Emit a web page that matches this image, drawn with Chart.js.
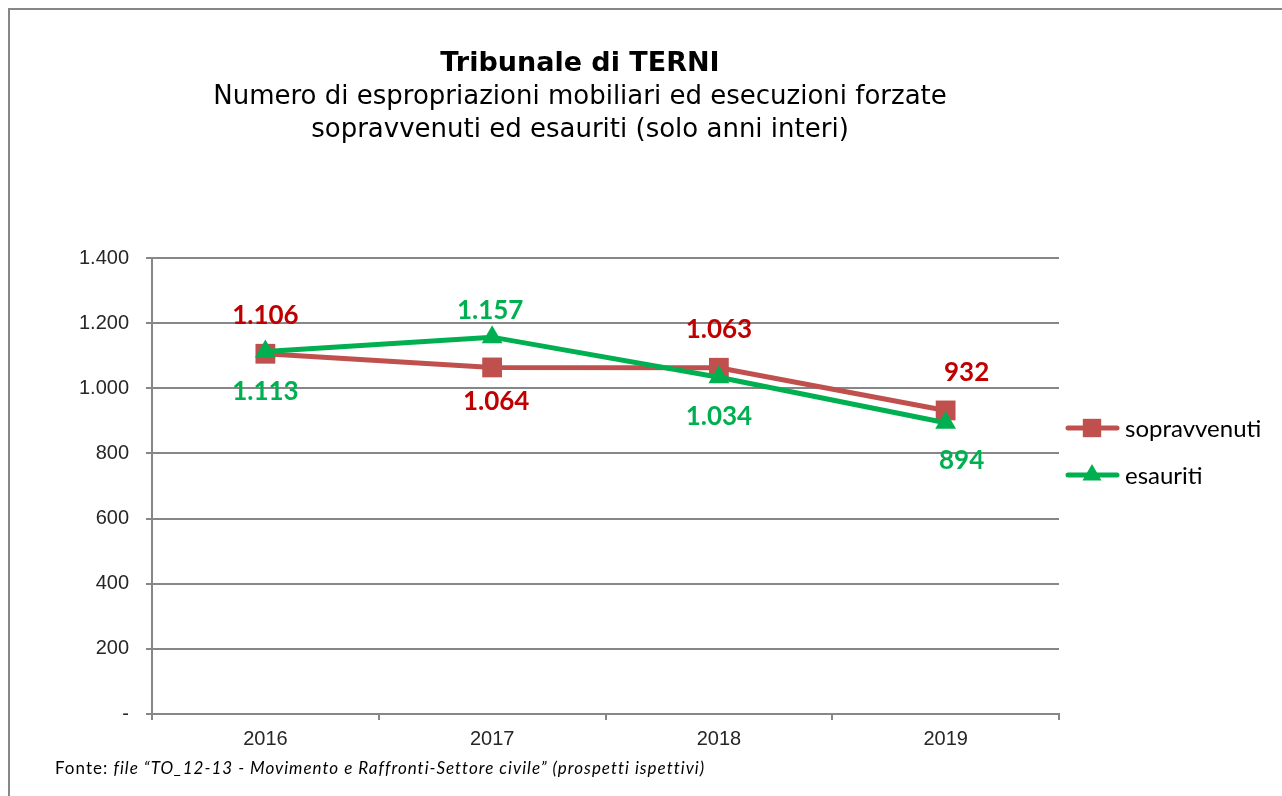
<!DOCTYPE html>
<html>
<head>
<meta charset="utf-8">
<title>Tribunale di TERNI</title>
<script src="https://cdn.jsdelivr.net/npm/chart.js"></script>
<style>
    body{ margin:0; background:#ffffff; }
    #contenedor{ width:1282px; height:796px; position:relative; }
</style>
</head>
<body>
<div id="contenedor">
    <canvas id="miGrafica"></canvas>
</div>
<script>

// =============================
// DATOS
// =============================
const anni = ["2016", "2017", "2018", "2019"];

const sopravvenuti = [1106, 1064, 1063, 932];
const esauriti = [1113, 1157, 1034, 894];

const ticksY = [0, 200, 400, 600, 800, 1000, 1200, 1400];

// desplazamiento de las etiquetas respecto al punto (px)
const offsetSopravvenuti = [[0, -38], [4, 34], [0, -38], [21, -38]];
const offsetEsauriti = [[0, 40], [-2, -27], [0, 39], [16, 38]];

const coloreSop = "#C0504D";
const coloreSopLabel = "#C00000";
const coloreEsa = "#00B050";
const grigio = "#878787";

function formatoNumero(valor){
    if(valor === 0){
        return "-";
    }
    return String(valor).replace(/\B(?=(\d{3})+(?!\d))/g, ".");
}

// =============================
// PLUGIN: TEXTOS, MARCO, LEYENDA
// =============================
const pluginTesti = {

    id: "testi",

    afterDraw(chart){

        let ctx = chart.ctx;
        ctx.save();

        // marco
        ctx.strokeStyle = grigio;
        ctx.lineWidth = 2;
        ctx.beginPath();
        ctx.moveTo(9, 796);
        ctx.lineTo(9, 9);
        ctx.lineTo(1282, 9);
        ctx.stroke();

        // titulo
        ctx.fillStyle = "#000000";
        ctx.textAlign = "center";
        ctx.textBaseline = "middle";
        ctx.font = "bold 27px 'DejaVu Sans'";
        ctx.fillText("Tribunale di TERNI", 580, 64);
        ctx.font = "26px 'DejaVu Sans'";
        ctx.fillText("Numero di espropriazioni mobiliari ed esecuzioni forzate", 580, 97);
        ctx.fillText("sopravvenuti ed esauriti (solo anni interi)", 580, 130);

        // etiquetas de datos
        ctx.font = "bold 26px Lato";
        let etichette = [
            {dati: sopravvenuti, off: offsetSopravvenuti, colore: coloreSopLabel},
            {dati: esauriti, off: offsetEsauriti, colore: coloreEsa}
        ];
        etichette.forEach(function(serie){
            serie.dati.forEach(function(valore, i){
                let x = chart.scales.x.getPixelForValue(i);
                let y = chart.scales.y.getPixelForValue(valore);
                ctx.fillStyle = serie.colore;
                ctx.fillText(formatoNumero(valore), x + serie.off[i][0], y + serie.off[i][1]);
            });
        });

        // leyenda
        let voci = [
            {testo: "sopravvenuti", colore: coloreSop, stile: "rect", r: 13, y: 428},
            {testo: "esauriti", colore: coloreEsa, stile: "triangle", r: 11, y: 475}
        ];
        voci.forEach(function(voce){
            ctx.strokeStyle = voce.colore;
            ctx.fillStyle = voce.colore;
            ctx.lineWidth = 5;
            ctx.lineCap = "round";
            ctx.beginPath();
            ctx.moveTo(1068, voce.y);
            ctx.lineTo(1117, voce.y);
            ctx.stroke();
            Chart.helpers.drawPoint(ctx, {
                pointStyle: voce.stile,
                radius: voce.r,
                borderWidth: 0,
                rotation: 0
            }, 1092, voce.y);
            ctx.fillStyle = "#000000";
            ctx.textAlign = "left";
            ctx.font = "24px Lato";
            ctx.fillText(voce.testo, 1125, voce.y + 1);
        });

        // fuente
        ctx.textAlign = "left";
        ctx.letterSpacing = "1px";
        ctx.font = "17px Lato";
        ctx.fillText("Fonte:", 55, 769);
        let w = ctx.measureText("Fonte: ").width;
        ctx.font = "italic 17px Lato";
        ctx.fillText("file \u201CTO_12-13 - Movimento e Raffronti-Settore civile\u201D (prospetti ispettivi)", 55 + w, 769);

        ctx.restore();
    }

};

// =============================
// GRÁFICA
// =============================
let ctx = document.getElementById("miGrafica").getContext("2d");

let grafica = new Chart(ctx, {

    type: "line",

    data: {

        labels: anni,

        datasets: [
            {
                label: "sopravvenuti",
                data: sopravvenuti,
                borderColor: coloreSop,
                backgroundColor: coloreSop,
                borderWidth: 5,
                pointStyle: "rect",
                pointRadius: 14,
                pointBorderWidth: 0,
                tension: 0,
                order: 1
            },
            {
                label: "esauriti",
                data: esauriti,
                borderColor: coloreEsa,
                backgroundColor: coloreEsa,
                borderWidth: 5,
                pointStyle: "triangle",
                pointRadius: 12,
                pointBorderWidth: 0,
                tension: 0,
                order: 0
            }
        ]

    },

    options: {

        responsive: true,
        maintainAspectRatio: false,
        animation: false,

        layout: {
            padding: {top: 258, right: 223, left: 0, bottom: 0}
        },

        plugins: {
            legend: {display: false},
            title: {display: false},
            tooltip: {enabled: false}
        },

        scales: {

            x: {
                offset: true,
                afterFit(scale){ scale.height = 82; },
                grid: {
                    offset: true,
                    drawOnChartArea: false,
                    color: grigio,
                    lineWidth: 2,
                    tickLength: 6
                },
                border: {color: grigio, width: 2},
                ticks: {
                    color: "#262626",
                    padding: 7,
                    font: {family: "'Liberation Sans', Arial", size: 20}
                }
            },

            y: {
                min: 0,
                max: 1400,
                afterFit(scale){ scale.width = 152; },
                afterBuildTicks(scale){
                    scale.ticks = ticksY.map(v => ({value: v}));
                },
                grid: {
                    color: grigio,
                    lineWidth: 2,
                    tickLength: 6
                },
                border: {color: grigio, width: 2},
                ticks: {
                    color: "#262626",
                    padding: 17,
                    font: {family: "'Liberation Sans', Arial", size: 20},
                    callback: function(valor){ return formatoNumero(valor); }
                }
            }

        }

    },

    plugins: [pluginTesti]

});

</script>
</body>
</html>
